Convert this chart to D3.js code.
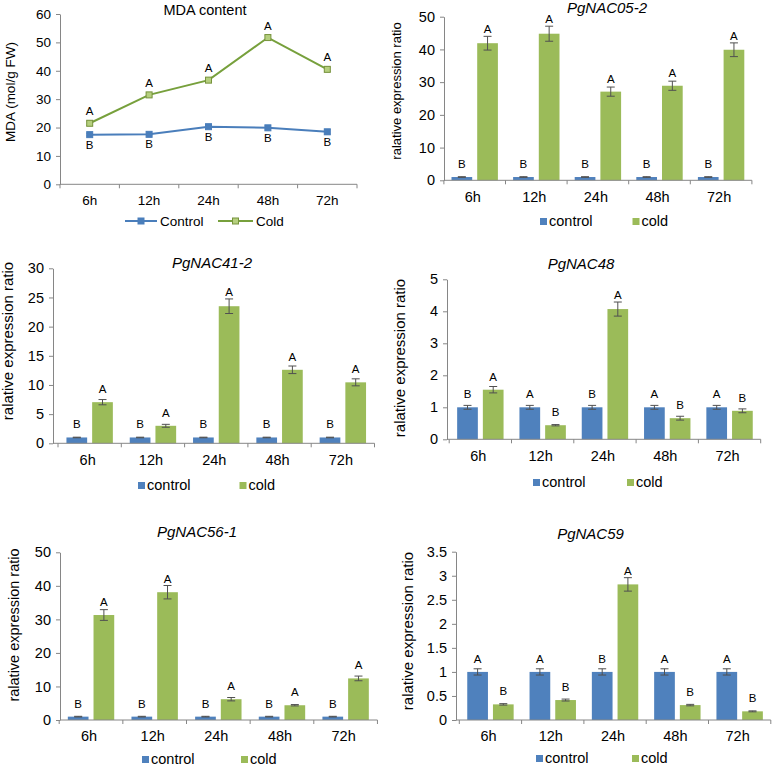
<!DOCTYPE html>
<html>
<head>
<meta charset="utf-8">
<script src="https://cdn.jsdelivr.net/npm/d3@7"></script>
<style>
  html, body { margin: 0; padding: 0; background: #ffffff; }
  svg { display: block; }
  text { font-family: "Liberation Sans", Arial, sans-serif; fill: #000; }
</style>
</head>
<body>
<svg id="chart" width="772" height="768"></svg>
<script>
// ---------------- DATA ----------------
const timePoints = ["6h", "12h", "24h", "48h", "72h"];

// MDA content (line chart)
const mdaControl    = [17.5, 17.6, 20.3, 19.9, 18.5];
const mdaControlErr = [0.4, 0.4, 0.6, 0.7, 0.8];
const mdaCold       = [21.5, 31.5, 36.7, 51.7, 40.5];
const mdaColdErr    = [0.8, 0.6, 0.6, 0.7, 0.8];
const mdaControlSig = ["B", "B", "B", "B", "B"];
const mdaColdSig    = ["A", "A", "A", "A", "A"];
const mdaTicks      = [0, 10, 20, 30, 40, 50, 60];

// PgNAC05-2
const nac052Control    = [1, 1, 1, 1, 1];
const nac052ControlErr = [0.1, 0.1, 0.1, 0.1, 0.1];
const nac052Cold       = [41.9, 44.8, 27.1, 28.9, 39.9];
const nac052ColdErr    = [2.1, 2.3, 1.4, 1.4, 2.1];
const nac052ControlSig = ["B", "B", "B", "B", "B"];
const nac052ColdSig    = ["A", "A", "A", "A", "A"];
const nac052Ticks      = [0, 10, 20, 30, 40, 50];

// PgNAC41-2
const nac412Control    = [1, 1, 1, 1, 1];
const nac412ControlErr = [0.05, 0.05, 0.05, 0.05, 0.05];
const nac412Cold       = [7.05, 3.0, 23.5, 12.6, 10.45];
const nac412ColdErr    = [0.45, 0.25, 1.25, 0.65, 0.6];
const nac412ControlSig = ["B", "B", "B", "B", "B"];
const nac412ColdSig    = ["A", "A", "A", "A", "A"];
const nac412Ticks      = [0, 5, 10, 15, 20, 25, 30];

// PgNAC48
const nac48Control    = [1, 1, 1, 1, 1];
const nac48ControlErr = [0.06, 0.06, 0.06, 0.06, 0.06];
const nac48Cold       = [1.55, 0.44, 4.07, 0.66, 0.89];
const nac48ColdErr    = [0.1, 0.02, 0.22, 0.06, 0.06];
const nac48ControlSig = ["B", "A", "B", "A", "A"];
const nac48ColdSig    = ["A", "B", "A", "B", "B"];
const nac48Ticks      = [0, 1, 2, 3, 4, 5];

// PgNAC56-1
const nac561Control    = [1, 1, 1, 1, 1];
const nac561ControlErr = [0.1, 0.1, 0.1, 0.1, 0.1];
const nac561Cold       = [31.3, 38.1, 6.2, 4.4, 12.4];
const nac561ColdErr    = [1.6, 2.0, 0.5, 0.2, 0.7];
const nac561ControlSig = ["B", "B", "B", "B", "B"];
const nac561ColdSig    = ["A", "A", "A", "A", "A"];
const nac561Ticks      = [0, 10, 20, 30, 40, 50];

// PgNAC59
const nac59Control    = [1, 1, 1, 1, 1];
const nac59ControlErr = [0.065, 0.065, 0.065, 0.065, 0.065];
const nac59Cold       = [0.325, 0.415, 2.82, 0.31, 0.18];
const nac59ColdErr    = [0.015, 0.02, 0.14, 0.015, 0.01];
const nac59ControlSig = ["A", "A", "B", "A", "A"];
const nac59ColdSig    = ["B", "B", "A", "B", "B"];
const nac59Ticks      = [0, 0.5, 1, 1.5, 2, 2.5, 3, 3.5];

const seriesNames = ["control", "cold"];

// ---------------- STYLE ----------------
const BLUE = "#4F81BD", GREEN = "#9BBB59";
const AXIS = "#868686", ERR = "#505050";
const FONT = '"Liberation Sans", Arial, sans-serif';

const svg = d3.select("#chart");
svg.append("rect").attr("width", 772).attr("height", 768).attr("fill", "#fff");

function styleAxis(g, fontSize) {
  g.selectAll("path.domain").attr("stroke", AXIS);
  g.selectAll(".tick line").attr("stroke", AXIS);
  g.selectAll(".tick text").attr("font-size", fontSize).attr("font-family", FONT).attr("fill", "#000");
}

// ---------------- LINE PANEL (MDA) ----------------
(function mdaPanel() {
  const L = { axisX: 60, start: 60, cat: 59.4, y0: 184.3, yTop: 14 };
  const g = svg.append("g");
  const x = d3.scaleBand().domain(timePoints).range([L.start, L.start + 5 * L.cat]);
  const y = d3.scaleLinear().domain([0, 60]).range([L.y0, L.yTop]);
  const cx = t => x(t) + x.bandwidth() / 2;

  const ya = g.append("g").attr("transform", `translate(${L.axisX},0)`)
    .call(d3.axisLeft(y).tickValues(mdaTicks).tickSize(4).tickSizeOuter(0).tickPadding(5));
  styleAxis(ya, 13.5);

  const xa = g.append("g").attr("transform", `translate(0,${L.y0})`)
    .call(d3.axisBottom(x).tickSize(0).tickPadding(11));
  xa.select("path.domain").remove();
  styleAxis(xa, 13.5);
  g.append("line").attr("x1", L.axisX).attr("x2", L.start + 5 * L.cat)
    .attr("y1", L.y0).attr("y2", L.y0).attr("stroke", AXIS);
  d3.range(6).forEach(i => {
    const xx = L.start + i * x.step();
    g.append("line").attr("x1", xx).attr("x2", xx).attr("y1", L.y0).attr("y2", L.y0 + 4).attr("stroke", AXIS);
  });

  g.append("text").attr("x", 205).attr("y", 15).attr("text-anchor", "middle")
    .attr("font-size", 14.5).text("MDA content");
  g.append("text").attr("transform", "translate(15,92) rotate(-90)").attr("text-anchor", "middle")
    .attr("font-size", 13.5).text("MDA (mol/g FW)");

  const series = [
    { vals: mdaControl, err: mdaControlErr, sig: mdaControlSig, line: "#4A7EBB", fill: "#4A7EBB", stroke: "#4A7EBB", above: false },
    { vals: mdaCold, err: mdaColdErr, sig: mdaColdSig, line: "#77A03C", fill: "#B5CF7E", stroke: "#77933C", above: true }
  ];
  const line = d3.line().x(d => cx(d.t)).y(d => y(d.v));
  series.forEach(s => {
    const pts = timePoints.map((t, i) => ({ t, v: s.vals[i], e: s.err[i], sig: s.sig[i] }));
    g.append("path").datum(pts).attr("d", line).attr("fill", "none").attr("stroke", s.line).attr("stroke-width", 2);
    pts.forEach(p => {
      const px = cx(p.t);
      g.append("line").attr("x1", px).attr("x2", px).attr("y1", y(p.v - p.e)).attr("y2", y(p.v + p.e)).attr("stroke", ERR);
      [p.v - p.e, p.v + p.e].forEach(v => g.append("line").attr("x1", px - 3).attr("x2", px + 3)
        .attr("y1", y(v)).attr("y2", y(v)).attr("stroke", ERR));
      g.append("rect").attr("x", px - 3).attr("y", y(p.v) - 3).attr("width", 6).attr("height", 6)
        .attr("fill", s.fill).attr("stroke", s.stroke).attr("stroke-width", 1);
      g.append("text").attr("x", px).attr("y", s.above ? y(p.v) - 8 : y(p.v) + 14)
        .attr("text-anchor", "middle").attr("font-size", 11.5).text(p.sig);
    });
  });

  // legend
  const leg = [
    { x1: 125, x2: 157, name: "Control", tx: 160, s: series[0] },
    { x1: 218, x2: 253, name: "Cold", tx: 256, s: series[1] }
  ];
  leg.forEach(l => {
    g.append("line").attr("x1", l.x1).attr("x2", l.x2).attr("y1", 221).attr("y2", 221)
      .attr("stroke", l.s.line).attr("stroke-width", 2);
    const m = (l.x1 + l.x2) / 2;
    g.append("rect").attr("x", m - 3).attr("y", 218).attr("width", 6).attr("height", 6)
      .attr("fill", l.s.fill).attr("stroke", l.s.stroke);
    g.append("text").attr("x", l.tx).attr("y", 226).attr("font-size", 13.5).attr("fill", "#404040").text(l.name);
  });
})();

// ---------------- BAR PANELS ----------------
function barPanel(cfg) {
  const L = cfg.layout;
  const g = svg.append("g");
  const yMax = cfg.ticks[cfg.ticks.length - 1];
  const x = d3.scaleBand().domain(timePoints).range([L.start, L.start + 5 * L.cat]);
  const y = d3.scaleLinear().domain([0, yMax]).range([L.y0, L.yTop]);
  const sub = d3.scaleBand().domain(seriesNames).range([0, 2 * 20.7 + 5]).paddingInner(5 / 25.7);
  const groupOff = (x.bandwidth() - (2 * 20.7 + 5)) / 2;

  const ya = g.append("g").attr("transform", `translate(${L.axisX},0)`)
    .call(d3.axisLeft(y).tickValues(cfg.ticks).tickSize(4).tickSizeOuter(0).tickPadding(5).tickFormat(d3.format("~g")));
  styleAxis(ya, 14.5);

  const xa = g.append("g").attr("transform", `translate(0,${L.y0})`)
    .call(d3.axisBottom(x).tickSize(0).tickPadding(11));
  xa.select("path.domain").remove();
  styleAxis(xa, 14.5);
  xa.selectAll(".tick text").attr("dx", -2);

  // bars
  const series = [
    { name: "control", vals: cfg.control, err: cfg.controlErr, sig: cfg.controlSig, color: BLUE },
    { name: "cold", vals: cfg.cold, err: cfg.coldErr, sig: cfg.coldSig, color: GREEN }
  ];
  series.forEach(s => {
    timePoints.forEach((t, i) => {
      const bx = x(t) + groupOff + sub(s.name);
      const bw = sub.bandwidth();
      const v = s.vals[i], e = s.err[i];
      g.append("rect").attr("x", bx).attr("y", y(v)).attr("width", bw).attr("height", y(0) - y(v))
        .attr("fill", s.color);
      const mx = bx + bw / 2;
      g.append("line").attr("x1", mx).attr("x2", mx).attr("y1", y(v - e)).attr("y2", y(v + e)).attr("stroke", ERR);
      [v - e, v + e].forEach(vv => g.append("line").attr("x1", mx - 4).attr("x2", mx + 4)
        .attr("y1", y(vv)).attr("y2", y(vv)).attr("stroke", ERR));
      const ly = Math.max(Math.min(y(v) - 9, y(v + e) - 3), 0);
      g.append("text").attr("x", mx).attr("y", ly).attr("text-anchor", "middle")
        .attr("font-size", 11.5).text(s.sig[i]);
    });
  });

  // x axis line and boundary ticks (drawn over bars)
  g.append("line").attr("x1", L.axisX).attr("x2", L.start + 5 * L.cat)
    .attr("y1", L.y0).attr("y2", L.y0).attr("stroke", AXIS);
  d3.range(6).forEach(i => {
    const xx = L.start + i * x.step();
    g.append("line").attr("x1", xx).attr("x2", xx).attr("y1", L.y0).attr("y2", L.y0 + 4).attr("stroke", AXIS);
  });

  // title
  g.append("text").attr("x", L.titleX).attr("y", L.titleY).attr("text-anchor", "middle")
    .attr("font-size", 15).attr("font-style", "italic").text(cfg.title);
  // y label
  g.append("text").attr("transform", `translate(${L.ylabX},${L.ylabY}) rotate(-90)`)
    .attr("text-anchor", "middle").attr("font-size", L.ylabSize).text("ralative expression ratio");
  // legend
  series.forEach((s, k) => {
    const lx = L.legX[k];
    g.append("rect").attr("x", lx).attr("y", L.legY - 7.5).attr("width", 7).attr("height", 7).attr("fill", s.color);
    g.append("text").attr("x", lx + 9).attr("y", L.legY).attr("font-size", 14.5).attr("fill", "#000").text(s.name);
  });
}

barPanel({
  title: "PgNAC05-2", ticks: nac052Ticks,
  control: nac052Control, controlErr: nac052ControlErr, controlSig: nac052ControlSig,
  cold: nac052Cold, coldErr: nac052ColdErr, coldSig: nac052ColdSig,
  layout: { axisX: 444, start: 443.9, cat: 61.6, y0: 180.3, yTop: 16.7, titleX: 607, titleY: 13,
            ylabX: 401, ylabY: 91, ylabSize: 13, legX: [540, 632.5], legY: 225.5 }
});
barPanel({
  title: "PgNAC41-2", ticks: nac412Ticks,
  control: nac412Control, controlErr: nac412ControlErr, controlSig: nac412ControlSig,
  cold: nac412Cold, coldErr: nac412ColdErr, coldSig: nac412ColdSig,
  layout: { axisX: 53, start: 58, cat: 63.3, y0: 443.3, yTop: 268.3, titleX: 212, titleY: 268,
            ylabX: 13, ylabY: 341, ylabSize: 15, legX: [138, 239.5], legY: 489.5 }
});
barPanel({
  title: "PgNAC48", ticks: nac48Ticks,
  control: nac48Control, controlErr: nac48ControlErr, controlSig: nac48ControlSig,
  cold: nac48Cold, coldErr: nac48ColdErr, coldSig: nac48ColdSig,
  layout: { axisX: 447, start: 449.2, cat: 62.3, y0: 439.3, yTop: 279.3, titleX: 581, titleY: 269,
            ylabX: 405, ylabY: 358, ylabSize: 15, legX: [533, 627], legY: 486.5 }
});
barPanel({
  title: "PgNAC56-1", ticks: nac561Ticks,
  control: nac561Control, controlErr: nac561ControlErr, controlSig: nac561ControlSig,
  cold: nac561Cold, coldErr: nac561ColdErr, coldSig: nac561ColdSig,
  layout: { axisX: 60, start: 59.2, cat: 63.65, y0: 720, yTop: 552.3, titleX: 197, titleY: 536.5,
            ylabX: 19, ylabY: 625, ylabSize: 14.5, legX: [142, 241], legY: 763.5 }
});
barPanel({
  title: "PgNAC59", ticks: nac59Ticks,
  control: nac59Control, controlErr: nac59ControlErr, controlSig: nac59ControlSig,
  cold: nac59Cold, coldErr: nac59ColdErr, coldSig: nac59ColdSig,
  layout: { axisX: 456, start: 459.3, cat: 62.3, y0: 720, yTop: 551.7, titleX: 590.5, titleY: 539,
            ylabX: 413, ylabY: 631, ylabSize: 15, legX: [536, 632], legY: 762.5 }
});
</script>
</body>
</html>
